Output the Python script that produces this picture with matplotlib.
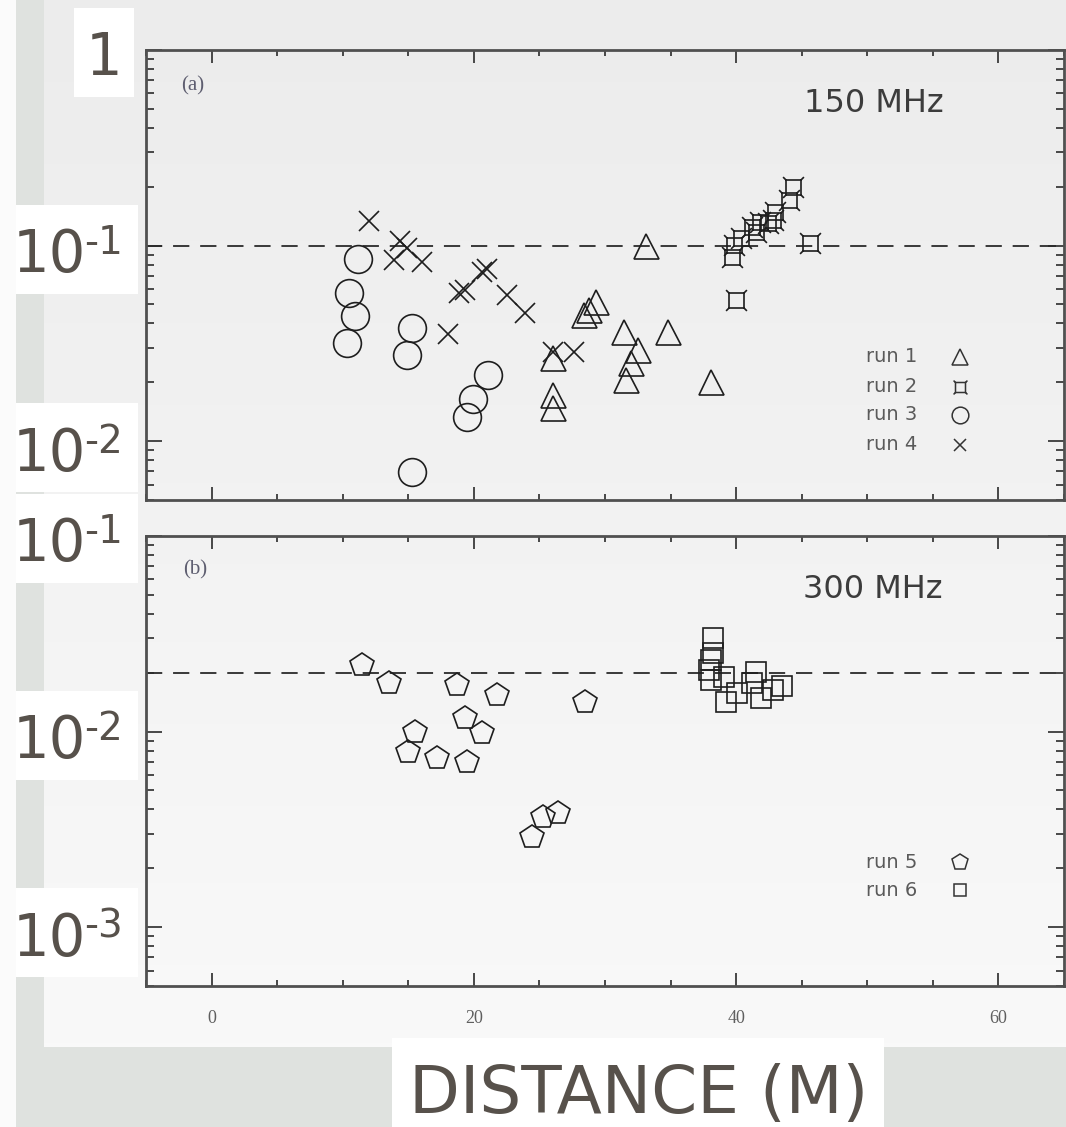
import numpy as np
import matplotlib
matplotlib.use("Agg")
import matplotlib.pyplot as plt
from matplotlib.path import Path
from matplotlib.patches import Rectangle
from matplotlib.colors import LinearSegmentedColormap

# (a) 150 MHz, runs 1-4: distance (m) and measured value
run1_x = [26.0, 26.0, 26.0, 28.4, 28.8, 29.3, 31.45, 31.6, 32.0, 32.5, 33.1, 34.8, 38.1]
run1_y = [0.0265, 0.0172, 0.0147, 0.0442, 0.0469, 0.0517, 0.0363, 0.0205, 0.025, 0.0293, 0.100, 0.0363, 0.0201]

run2_x = [39.7, 39.8, 40.0, 40.4, 41.2, 41.5, 41.8, 42.4, 42.8, 43.0, 44.0, 44.3, 45.6]
run2_y = [0.0878, 0.1007, 0.0527, 0.109, 0.125, 0.118, 0.132, 0.13, 0.135, 0.149, 0.171, 0.2, 0.103]

run3_x = [11.2, 10.5, 10.97, 10.3, 15.3, 14.9, 21.1, 19.9, 19.5, 15.3]
run3_y = [0.0851, 0.057, 0.0437, 0.0316, 0.038, 0.0276, 0.0218, 0.0164, 0.0133, 0.00698]

run4_x = [12.0, 14.4, 14.9, 13.9, 16.05, 18.0, 18.9, 19.3, 20.6, 21.0, 22.5, 23.9, 26.0, 27.6]
run4_y = [0.134, 0.105, 0.0969, 0.0844, 0.0828, 0.0353, 0.057, 0.059, 0.073, 0.076, 0.0559, 0.045, 0.0287, 0.0287]

# (b) 300 MHz, runs 5-6
run5_x = [11.5, 13.5, 18.7, 21.8, 28.5, 15.5, 19.3, 20.6, 15.0, 17.2, 19.5, 24.4, 25.3, 26.4]
run5_y = [0.0219, 0.0178, 0.0173, 0.0154, 0.0142, 0.0100, 0.0117, 0.0098, 0.0079, 0.0073, 0.0070, 0.0029, 0.00367, 0.00382]

run6_x = [38.2, 38.2, 38.1, 37.9, 38.1, 39.1, 39.2, 40.1, 41.5, 41.9, 41.2, 42.8, 43.5]
run6_y = [0.030, 0.0251, 0.0232, 0.0206, 0.0184, 0.0191, 0.0142, 0.0157, 0.0202, 0.0148, 0.0177, 0.0163, 0.0170]

thresh_150 = 0.1
thresh_300 = 0.02

x_ticks = [0, 20, 40, 60]
legend_a = ['run 1', 'run 2', 'run 3', 'run 4']
legend_b = ['run 5', 'run 6']
big_exps = ['-1', '-2', '-1', '-2', '-3']

plt.rcParams['font.family'] = 'DejaVu Sans'

W, H = 1066, 1127
fig = plt.figure(figsize=(W / 100, H / 100), dpi=100, facecolor='#dfe2df')

# background layer in pixel units (y down)
bg = fig.add_axes([0, 0, 1, 1])
grad = np.linspace(0, 1, 256).reshape(-1, 1)
panel_cm = LinearSegmentedColormap.from_list('panel', ['#ececec', '#f9f9f9'])
bg.imshow(grad, extent=(44, W, 1047, 0), cmap=panel_cm, aspect='auto')
bg.add_patch(Rectangle((0, 0), 16, H, color='#fbfbfb', lw=0))
bg.set_xlim(0, W)
bg.set_ylim(H, 0)
bg.axis('off')


def px_axes(left, top, right, bottom):
    return fig.add_axes([left / W, 1 - bottom / H, (right - left) / W, (bottom - top) / H])


ax1 = px_axes(146, 50, 1064, 500)
ax2 = px_axes(146, 536, 1064, 986)

for ax in (ax1, ax2):
    ax.set_facecolor('none')
    ax.set_yscale('log')
    ax.set_xlim(-5, 65)
    ax.set_xticks(x_ticks)
    ax.set_xticks(np.arange(-5, 66, 5), minor=True)
    ax.tick_params(which='both', direction='in', top=True, right=True,
                   color='#3a3a3a', width=1.3)
    ax.tick_params(axis='x', which='major', length=9.5)
    ax.tick_params(axis='x', which='minor', length=4.5)
    ax.tick_params(axis='y', which='major', length=11.5)
    ax.tick_params(axis='y', which='minor', length=5.5)
    ax.tick_params(axis='y', which='both', labelleft=False)
    for s in ax.spines.values():
        s.set_linewidth(2.0)
        s.set_color('#505050')

ax1.set_ylim(5e-3, 1)
ax2.set_ylim(5e-4, 0.1)
ax1.tick_params(axis='x', labelbottom=False)
ax2.tick_params(axis='x', labelsize=13, labelcolor='#5f5f5f', pad=17)
for lab in ax2.get_xticklabels():
    lab.set_family('Liberation Serif')

# run 2 symbol: square with short spikes at the corners
s = 0.72
run2_marker = Path(
    [(-s, -s), (s, -s), (s, s), (-s, s), (-s, -s),
     (s, s), (1, 1), (-s, s), (-1, 1), (-s, -s), (-1, -1), (s, -s), (1, -1)],
    [Path.MOVETO, Path.LINETO, Path.LINETO, Path.LINETO, Path.CLOSEPOLY,
     Path.MOVETO, Path.LINETO, Path.MOVETO, Path.LINETO,
     Path.MOVETO, Path.LINETO, Path.MOVETO, Path.LINETO])

mk = dict(linestyle='none', markerfacecolor='none', markeredgecolor='#1e1e1e',
          markeredgewidth=1.2)

ax1.axhline(thresh_150, color='#2a2a2a', lw=1.3, ls=(0, (9, 6)))
ax1.plot(run1_x, run1_y, marker='^', markersize=18, **mk)
ax1.plot(run2_x, run2_y, marker=run2_marker, markersize=15, **mk)
ax1.plot(run3_x, run3_y, marker='o', markersize=20, **mk)
ax1.plot(run4_x, run4_y, marker='x', markersize=14, **mk)

ax2.axhline(thresh_300, color='#2a2a2a', lw=1.3, ls=(0, (9, 6)))
ax2.plot(run5_x, run5_y, marker='p', markersize=18, **mk)
ax2.plot(run6_x, run6_y, marker='s', markersize=14, **mk)

# panel captions
bg.text(193, 86, '(a)', fontsize=15, family='Liberation Serif', color='#5e5e70',
        ha='center', va='center')
bg.text(195, 570, '(b)', fontsize=15, family='Liberation Serif', color='#5e5e70',
        ha='center', va='center')
bg.text(804, 112, '150 MHz', fontsize=23, color='#3c3c3c', va='baseline')
bg.text(803, 598, '300 MHz', fontsize=23, color='#3c3c3c', va='baseline')

# key, text first then symbol
leg_mk = dict(linestyle='none', markerfacecolor='none', markeredgecolor='#333333',
              markeredgewidth=1.1)
for lab, y, m, ms in zip(legend_a, [357, 387, 415, 445], ['^', run2_marker, 'o', 'x'],
                         [11, 10, 12, 8]):
    bg.text(866, y, lab, fontsize=14, color='#5a5a5a', va='center')
    bg.plot([960], [y], marker=m, markersize=ms, **leg_mk)
for lab, y, m, ms in zip(legend_b, [862, 890], ['p', 's'], [12, 9]):
    bg.text(866, y, lab, fontsize=14, color='#5a5a5a', va='center')
    bg.plot([960], [y], marker=m, markersize=ms, **leg_mk)

# large axis labels on white cards
label_col = '#57514b'
bg.add_patch(Rectangle((74, 8), 60, 89, color='white', lw=0))
bg.text(104.5, 75, '1', fontsize=41.5, color=label_col, ha='center', va='baseline')
for top, base, exp in zip([205, 403, 494, 691, 888], [272, 471, 561, 758, 956], big_exps):
    bg.add_patch(Rectangle((16, top), 122, 89, color='white', lw=0))
    bg.text(13, base, '10', fontsize=41.5, color=label_col, va='baseline')
    bg.text(84, base - 18, exp, fontsize=28, color=label_col, va='baseline')

bg.add_patch(Rectangle((392, 1038), 492, 95, color='white', lw=0))
bg.text(638.5, 1113, 'DISTANCE (M)', fontsize=47.5, color=label_col,
        ha='center', va='baseline')

fig.savefig('out.png', dpi=100, facecolor=fig.get_facecolor())
